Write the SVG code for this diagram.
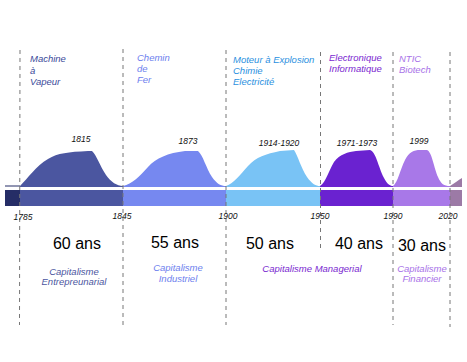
<svg xmlns="http://www.w3.org/2000/svg" width="467" height="362" viewBox="0 0 467 362">
<style>
.t{font-family:"Liberation Sans",Arial,sans-serif;font-style:italic;font-size:9.5px}
.yr{font-family:"Liberation Sans",Arial,sans-serif;font-style:italic;font-size:8.5px;fill:#111;text-anchor:middle}
.ans{font-family:"Liberation Sans",Arial,sans-serif;font-size:16px;fill:#000;text-anchor:middle}
.cap{font-family:"Liberation Sans",Arial,sans-serif;font-style:italic;font-size:9.5px;text-anchor:middle}
.dash{stroke:#777;stroke-width:1;stroke-dasharray:4,4;fill:none}
.c1{fill:#4b56a0}.c2{fill:#7688f0}.c3{fill:#79c3f5}.c4{fill:#6a22d0}.c5{fill:#a878e8}.c6{fill:#9c7aa6}
</style>
<rect width="467" height="362" fill="#fff"/>
<g id="bar">
<rect x="5" y="190" width="15" height="16" fill="#252d66"/>
<line x1="5" y1="186" x2="20" y2="186" stroke="#252d66" stroke-width="1"/>
<rect class="c1" x="20" y="190" width="103" height="16"/>
<rect class="c2" x="123" y="190" width="103" height="16"/>
<rect class="c3" x="226" y="190" width="94" height="16"/>
<rect class="c4" x="320" y="190" width="73" height="16"/>
<rect class="c5" x="393" y="190" width="57" height="16"/>
<rect class="c6" x="450" y="190" width="12" height="16"/>
</g>
<g id="waves">
<path class="c1" d="M20,187 L20,186 C28,178 36,166 48,159 C58,153 68,152 88,151 L92,151 C97,156 100,166 106,175 C111,182 117,186 123,186 L123,187 Z"/>
<path class="c2" d="M123,187 L123,186 C132,184 140,176 148,167 C156,158 168,153 185,151 L198,151 C203,155 206,168 212,177 C217,184 221,186 226,186 L226,187 Z"/>
<path class="c3" d="M226,187 L226,186 C234,183 240,175 248,166 C256,157 266,154 280,151 L294,150 C298,156 301,168 307,177 C312,184 316,186 320,186 L320,187 Z"/>
<path class="c4" d="M320,187 L320,186 C326,182 328,172 334,162 C340,154 348,152 356,151 L370,150 C376,152 378,166 384,178 C387,184 390,186 393,186 L393,187 Z"/>
<path class="c5" d="M393,187 L393,186 C398,182 400,170 405,160 C409,152 414,150 420,150 L427,150 C432,152 434,168 438,177 C441,184 444,186 450,186 L450,187 Z"/>
<path class="c6" d="M450,187 L450,186 C455,183 458,180 462,178 L462,187 Z"/>
</g>
<g id="connectors">
<line class="dash" x1="20" y1="50" x2="19.5" y2="325"/>
<line class="dash" x1="123" y1="49" x2="123" y2="325"/>
<line class="dash" x1="226" y1="50" x2="226" y2="325"/>
<line class="dash" x1="320.5" y1="52" x2="320.5" y2="250"/>
<line class="dash" x1="393" y1="52" x2="393" y2="325"/>
<line class="dash" x1="450" y1="52" x2="450" y2="327"/>
</g>
<g id="era1">
<text class="t" fill="#3a4a9a" x="30" y="62">Machine</text>
<text class="t" fill="#3a4a9a" x="30" y="73.5">à</text>
<text class="t" fill="#3a4a9a" x="30" y="84.5">Vapeur</text>
<text class="yr" x="81" y="142">1815</text>
<text class="ans" x="77" y="249">60 ans</text>
<text class="cap" fill="#4b56a0" x="74" y="274.5">Capitalisme</text>
<text class="cap" fill="#4b56a0" x="74" y="285">Entrepreunarial</text>
</g>
<g id="era2">
<text class="t" fill="#6d80ee" x="137" y="60.5">Chemin</text>
<text class="t" fill="#6d80ee" x="137" y="71.5">de</text>
<text class="t" fill="#6d80ee" x="137" y="82.5">Fer</text>
<text class="yr" x="188" y="143.5">1873</text>
<text class="ans" x="175" y="247.5">55 ans</text>
<text class="cap" fill="#6d80ee" x="178" y="270.5">Capitalisme</text>
<text class="cap" fill="#6d80ee" x="178" y="281.5">Industriel</text>
</g>
<g id="era3">
<text class="t" fill="#2a90e0" x="233" y="62.5">Moteur à Explosion</text>
<text class="t" fill="#2a90e0" x="233" y="74">Chimie</text>
<text class="t" fill="#2a90e0" x="233" y="84.5">Electricité</text>
<text class="yr" x="279" y="145.5">1914-1920</text>
<text class="ans" x="270" y="249">50 ans</text>
<text class="cap" fill="#7a28d0" x="312" y="271.5">Capitalisme Managerial</text>
</g>
<g id="era4">
<text class="t" fill="#7a28d0" x="329" y="60.5">Electronique</text>
<text class="t" fill="#7a28d0" x="329" y="71.5">Informatique</text>
<text class="yr" x="357" y="146">1971-1973</text>
<text class="ans" x="359" y="249">40 ans</text>
</g>
<g id="era5">
<text class="t" fill="#a872e8" x="399" y="61.5">NTIC</text>
<text class="t" fill="#a872e8" x="399" y="72.5">Biotech</text>
<text class="yr" x="419" y="144">1999</text>
<text class="ans" x="422" y="251">30 ans</text>
<text class="cap" fill="#a872e8" x="422" y="271.5">Capitalisme</text>
<text class="cap" fill="#a872e8" x="422" y="281.5">Financier</text>
</g>
<g id="years">
<text class="yr" x="23" y="220">1785</text>
<text class="yr" x="122" y="219">1845</text>
<text class="yr" x="228" y="218.5">1900</text>
<text class="yr" x="320" y="218.5">1950</text>
<text class="yr" x="393" y="218.5">1990</text>
<text class="yr" x="448" y="218.5">2020</text>
</g>
</svg>
